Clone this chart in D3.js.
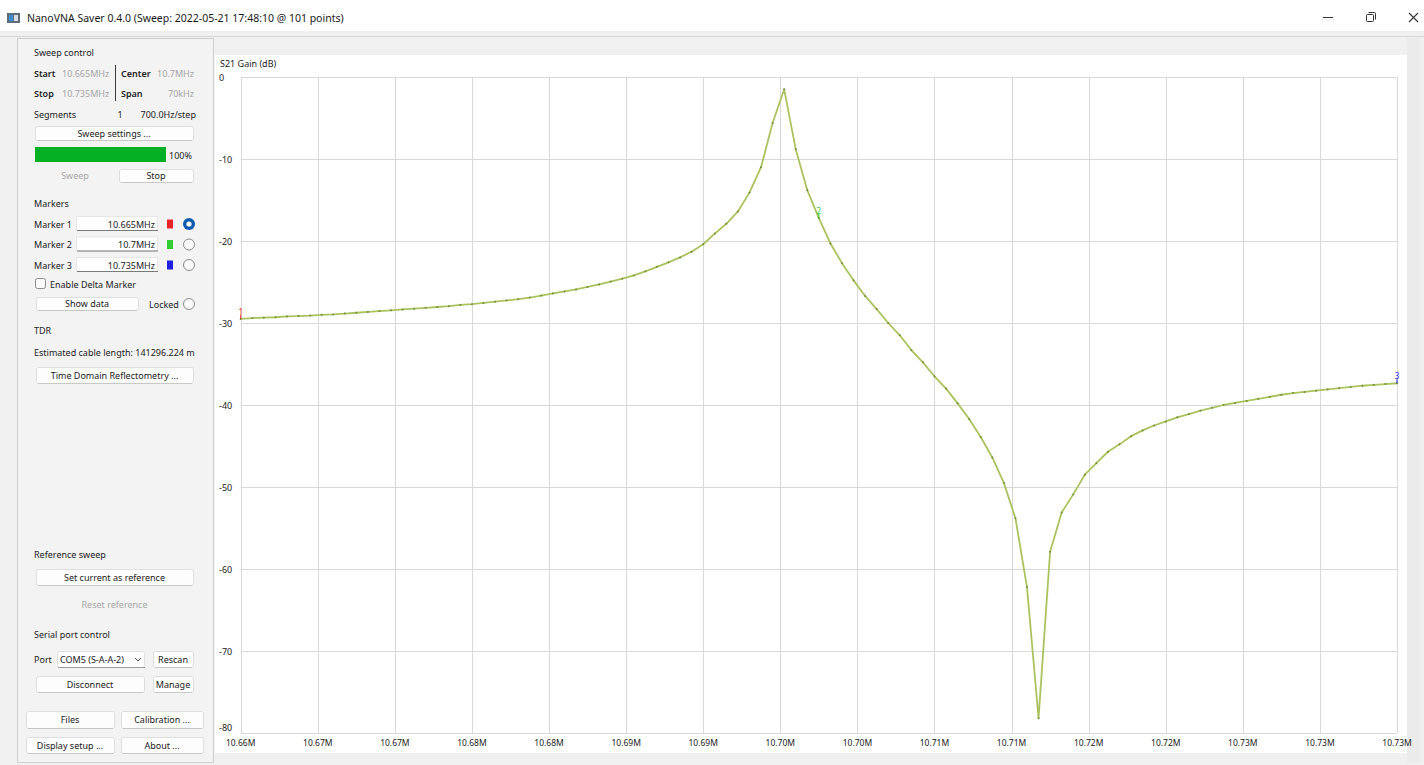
<!DOCTYPE html>
<html>
<head>
<meta charset="utf-8">
<script src="https://cdn.jsdelivr.net/npm/d3@7"></script>
<style>
    body { margin: 0; background: #f0f0f0; overflow: hidden; }
    svg { display: block; font-family: "Noto Sans", "Open Sans", sans-serif; }
</style>
</head>
<body>
<svg id="app"></svg>
<script>
const WIDTH = 1424, HEIGHT = 765;

// sweep definition (101 points, 700 Hz/step)
const SWEEP_START = 10665000;
const SWEEP_STOP = 10735000;
const SWEEP_STEP = 700;

// S21 gain (dB), one per sweep point
const s21Gain = [
    -29.5, -29.4, -29.35, -29.3, -29.2, -29.15, -29.1, -29.0, -28.95, -28.85,
    -28.75, -28.65, -28.55, -28.45, -28.35, -28.25, -28.15, -28.05, -27.95, -27.8,
    -27.7, -27.55, -27.4, -27.25, -27.1, -26.9, -26.65, -26.4, -26.15, -25.9,
    -25.6, -25.3, -24.95, -24.6, -24.2, -23.7, -23.15, -22.6, -22.0, -21.3,
    -20.4, -19.1, -17.9, -16.4, -14.1, -11.0, -5.6, -1.5, -8.8, -13.8,
    -17.2, -20.3, -22.7, -24.8, -26.7, -28.3, -30.0, -31.5, -33.3, -34.8,
    -36.5, -38.0, -39.8, -41.7, -43.9, -46.4, -49.5, -53.8, -62.2, -78.2,
    -57.9, -53.1, -50.9, -48.5, -47.1, -45.7, -44.8, -43.8, -43.1, -42.5,
    -42.0, -41.5, -41.1, -40.7, -40.35, -40.0, -39.75, -39.5, -39.25, -39.0,
    -38.75, -38.55, -38.4, -38.25, -38.1, -37.95, -37.8, -37.65, -37.55, -37.45,
    -37.35
];

const yTicks = [0, -10, -20, -30, -40, -50, -60, -70, -80];
const xTickLabels = [
    "10.66M", "10.67M", "10.67M", "10.68M", "10.68M", "10.69M", "10.69M", "10.70M",
    "10.70M", "10.71M", "10.71M", "10.72M", "10.72M", "10.73M", "10.73M", "10.73M"
];

const markerNames = ["1", "2", "3"];
const markerFreqs = [10665000, 10700000, 10735000];
const markerTexts = ["10.665MHz", "10.7MHz", "10.735MHz"];
const markerColors = ["#e8262a", "#33cc33", "#1f1fe0"];

const svg = d3.select("#app")
        .attr("width", WIDTH)
        .attr("height", HEIGHT);

// ---------- window chrome ----------
svg.append("rect").attr("width", WIDTH).attr("height", HEIGHT).attr("fill", "#f0f0f0");
svg.append("rect").attr("width", WIDTH).attr("height", 31).attr("fill", "#ffffff");
svg.append("line").attr("x1", 0).attr("x2", WIDTH).attr("y1", 36.5).attr("y2", 36.5)
    .attr("stroke", "#d6d6d6");

let icon = svg.append("g").attr("transform", "translate(7,13)");
icon.append("rect").attr("width", 13).attr("height", 10).attr("fill", "#5f6d7a");
icon.append("rect").attr("x", 2).attr("y", 2).attr("width", 4).attr("height", 6).attr("fill", "#3a8fd8");
icon.append("rect").attr("x", 7).attr("y", 2).attr("width", 4).attr("height", 6).attr("fill", "#d8dde2");

svg.append("text")
        .attr("x", 27).attr("y", 22)
        .attr("font-size", "10.5px")
        .attr("fill", "#1a1a1a")
        .text("NanoVNA Saver 0.4.0 (Sweep: 2022-05-21 17:48:10 @ 101 points)");

// minimise / restore / close
svg.append("line").attr("x1", 1323).attr("x2", 1333).attr("y1", 17.5).attr("y2", 17.5)
    .attr("stroke", "#333");
svg.append("rect").attr("x", 1366.5).attr("y", 14.5).attr("width", 7).attr("height", 7)
    .attr("fill", "none").attr("stroke", "#333").attr("rx", 1);
svg.append("path").attr("d", "M1368.5,12.5 h6 a1,1 0 0 1 1,1 v6")
    .attr("fill", "none").attr("stroke", "#333");
svg.append("path").attr("d", "M1409,13 l9,9 M1418,13 l-9,9")
    .attr("stroke", "#333").attr("stroke-width", 1.1);

// ---------- left control panel ----------
let panel = svg.append("g").classed("panel", true);
panel.append("rect")
        .attr("x", 17.5).attr("y", 38.5)
        .attr("width", 196).attr("height", 724)
        .attr("fill", "#f3f3f3")
        .attr("stroke", "#cfcfcf");

function label(x, y, text, opts = {}) {
    return panel.append("text")
            .attr("x", x).attr("y", y)
            .attr("font-size", opts.size || "9px")
            .attr("fill", opts.color || "#222")
            .attr("font-weight", opts.weight || "normal")
            .style("text-anchor", opts.anchor || "start")
            .text(text);
}

function button(x, y, w, h, text, disabled) {
    if (!disabled) {
        panel.append("rect")
                .attr("x", x + 0.5).attr("y", y + 0.5)
                .attr("width", w).attr("height", h)
                .attr("rx", 2)
                .attr("fill", "#fdfdfd")
                .attr("stroke", "#dedede");
        panel.append("line")
                .attr("x1", x + 2).attr("x2", x + w - 1)
                .attr("y1", y + h + 0.5).attr("y2", y + h + 0.5)
                .attr("stroke", "#c8c8c8");
    }
    label(x + w / 2, y + h / 2 + 3.5, text, {
        anchor: "middle",
        color: disabled ? "#a8a8a8" : "#222"
    });
}

function radio(cx, cy, checked) {
    if (checked) {
        panel.append("circle").attr("cx", cx).attr("cy", cy).attr("r", 6).attr("fill", "#0b5cad");
        panel.append("circle").attr("cx", cx).attr("cy", cy).attr("r", 2.6).attr("fill", "#ffffff");
    } else {
        panel.append("circle").attr("cx", cx).attr("cy", cy).attr("r", 5.5)
            .attr("fill", "#fafafa").attr("stroke", "#8a8a8a");
    }
}

// Sweep control
label(34, 56, "Sweep control");
label(34, 77, "Start", { weight: "600" });
label(62, 77, "10.665MHz", { color: "#a6a6a6" });
label(34, 97, "Stop", { weight: "600" });
label(62, 97, "10.735MHz", { color: "#a6a6a6" });
panel.append("line").attr("x1", 115.5).attr("x2", 115.5).attr("y1", 65).attr("y2", 101)
    .attr("stroke", "#3a3a3a");
label(121, 77, "Center", { weight: "600" });
label(194, 77, "10.7MHz", { color: "#a6a6a6", anchor: "end" });
label(121, 97, "Span", { weight: "600" });
label(194, 97, "70kHz", { color: "#a6a6a6", anchor: "end" });
label(34, 118, "Segments");
label(120, 118, "1", { anchor: "middle" });
label(196, 118, "700.0Hz/step", { anchor: "end" });
button(35, 126, 158, 14, "Sweep settings ...");
panel.append("rect").attr("x", 35).attr("y", 147).attr("width", 131).attr("height", 15)
    .attr("fill", "#06b025");
label(192, 159, "100%", { anchor: "end" });
button(35, 169, 80, 13, "Sweep", true);
button(119, 169, 74, 13, "Stop");

// Markers
label(34, 207, "Markers");
markerNames.forEach((name, i) => {
    let cy = 224 + i * 20.5;
    label(34, cy + 3.5, "Marker " + name);
    panel.append("rect").attr("x", 76.5).attr("y", cy - 7.5).attr("width", 81).attr("height", 14)
        .attr("fill", "#ffffff").attr("stroke", "#e6e6e6");
    panel.append("line").attr("x1", 77).attr("x2", 158).attr("y1", cy + 6.5).attr("y2", cy + 6.5)
        .attr("stroke", "#7a7a7a");
    label(155, cy + 3.5, markerTexts[i], { anchor: "end" });
    panel.append("rect").attr("x", 167).attr("y", cy - 4.5).attr("width", 6).attr("height", 9)
        .attr("fill", markerColors[i]);
    radio(189, cy, i === 0);
});
panel.append("rect").attr("x", 35.5).attr("y", 278.5).attr("width", 10).attr("height", 10)
    .attr("rx", 2).attr("fill", "#fafafa").attr("stroke", "#8a8a8a");
label(50, 288, "Enable Delta Marker");
button(36, 297, 102, 13, "Show data");
label(149, 308, "Locked");
radio(189, 304, false);

// TDR
label(34, 334, "TDR");
panel.append("clipPath").attr("id", "panel-clip")
    .append("rect").attr("x", 18).attr("y", 340).attr("width", 179).attr("height", 20);
label(34, 356, "Estimated cable length:  141296.224 m").attr("clip-path", "url(#panel-clip)");
button(36, 367, 157, 16, "Time Domain Reflectometry ...");

// Reference sweep
label(34, 558, "Reference sweep");
button(36, 569, 157, 16, "Set current as reference");
button(36, 596, 157, 16, "Reset reference", true);

// Serial port control
label(34, 638, "Serial port control");
label(34, 663, "Port");
panel.append("rect").attr("x", 57.5).attr("y", 651.5).attr("width", 87).attr("height", 16)
    .attr("rx", 2).attr("fill", "#fdfdfd").attr("stroke", "#e0e0e0");
panel.append("line").attr("x1", 58).attr("x2", 145).attr("y1", 667.5).attr("y2", 667.5)
    .attr("stroke", "#9a9a9a");
label(60, 663, "COM5 (S-A-A-2)");
panel.append("path").attr("d", "M135,658 l3,3 l3,-3").attr("fill", "none").attr("stroke", "#555");
button(153, 651, 40, 16, "Rescan");
button(36, 676, 108, 16, "Disconnect");
button(153, 676, 40, 16, "Manage");

button(26, 711, 88, 17, "Files");
button(121, 711, 82, 17, "Calibration ...");
button(26, 737, 88, 16, "Display setup ...");
button(121, 737, 82, 16, "About ...");

// ---------- S21 gain chart ----------
svg.append("rect")
        .attr("x", 215).attr("y", 55)
        .attr("width", 1192).attr("height", 698)
        .attr("fill", "#ffffff");
svg.append("rect")
        .attr("x", 1407).attr("y", 38)
        .attr("width", 13).attr("height", 724)
        .attr("fill", "#ebebeb");

let chart = svg.append("g").classed("s21-chart", true);

let xScale = d3.scaleLinear()
    .domain([SWEEP_START, SWEEP_STOP])
    .range([240.7, 1397]);
let yScale = d3.scaleLinear()
    .domain([-80, 0])
    .range([733, 77]);

let xTicks = xTickLabels.map((_, i) => SWEEP_START + i * (SWEEP_STOP - SWEEP_START) / (xTickLabels.length - 1));

chart.append("text")
        .attr("x", 220).attr("y", 67)
        .attr("font-size", "9px")
        .attr("fill", "#222")
        .text("S21 Gain (dB)");

chart.selectAll(".grid-h")
    .data(yTicks)
    .enter()
    .append("line")
        .classed("grid-h", true)
        .attr("x1", xScale(SWEEP_START)).attr("x2", xScale(SWEEP_STOP))
        .attr("y1", d => Math.round(yScale(d)) + 0.5)
        .attr("y2", d => Math.round(yScale(d)) + 0.5)
        .attr("stroke", "#d9d9d9");

chart.selectAll(".grid-v")
    .data(xTicks)
    .enter()
    .append("line")
        .classed("grid-v", true)
        .attr("x1", d => Math.round(xScale(d)) + 0.5)
        .attr("x2", d => Math.round(xScale(d)) + 0.5)
        .attr("y1", yScale(0)).attr("y2", yScale(-80))
        .attr("stroke", "#d9d9d9");

chart.selectAll(".y-label")
    .data(yTicks)
    .enter()
    .append("text")
        .classed("y-label", true)
        .attr("x", 219)
        .attr("y", d => Math.min(yScale(d) + 3.5, 731))
        .attr("font-size", "9px")
        .attr("fill", "#222")
        .text(d => d);

chart.selectAll(".x-label")
    .data(xTicks)
    .enter()
    .append("text")
        .classed("x-label", true)
        .attr("x", d => xScale(d))
        .attr("y", 746)
        .attr("font-size", "8.5px")
        .attr("fill", "#222")
        .style("text-anchor", "middle")
        .text((d, i) => xTickLabels[i]);

let points = s21Gain.map((gain, i) => ({ freq: SWEEP_START + i * SWEEP_STEP, gain: gain }));

let line = d3.line()
    .x(d => xScale(d.freq))
    .y(d => yScale(d.gain));

chart.append("path")
        .datum(points)
        .attr("d", line)
        .attr("fill", "none")
        .attr("stroke", "#abc35e")
        .attr("stroke-width", 1.8)
        .attr("stroke-linejoin", "round");

chart.selectAll(".point")
    .data(points)
    .enter()
    .append("circle")
        .classed("point", true)
        .attr("cx", d => xScale(d.freq))
        .attr("cy", d => yScale(d.gain))
        .attr("r", 1)
        .attr("fill", "#748e3a");

// markers on the trace
markerNames.forEach((name, i) => {
    let idx = Math.round((markerFreqs[i] - SWEEP_START) / SWEEP_STEP);
    let p = points[idx];
    let mx = xScale(p.freq), my = yScale(p.gain);
    chart.append("line")
            .attr("x1", mx).attr("x2", mx)
            .attr("y1", my - 4).attr("y2", my)
            .attr("stroke", markerColors[i]);
    chart.append("text")
            .attr("x", mx)
            .attr("y", my - 4)
            .attr("font-size", "8px")
            .attr("fill", markerColors[i])
            .style("text-anchor", "middle")
            .text(name);
});
</script>
</body>
</html>
